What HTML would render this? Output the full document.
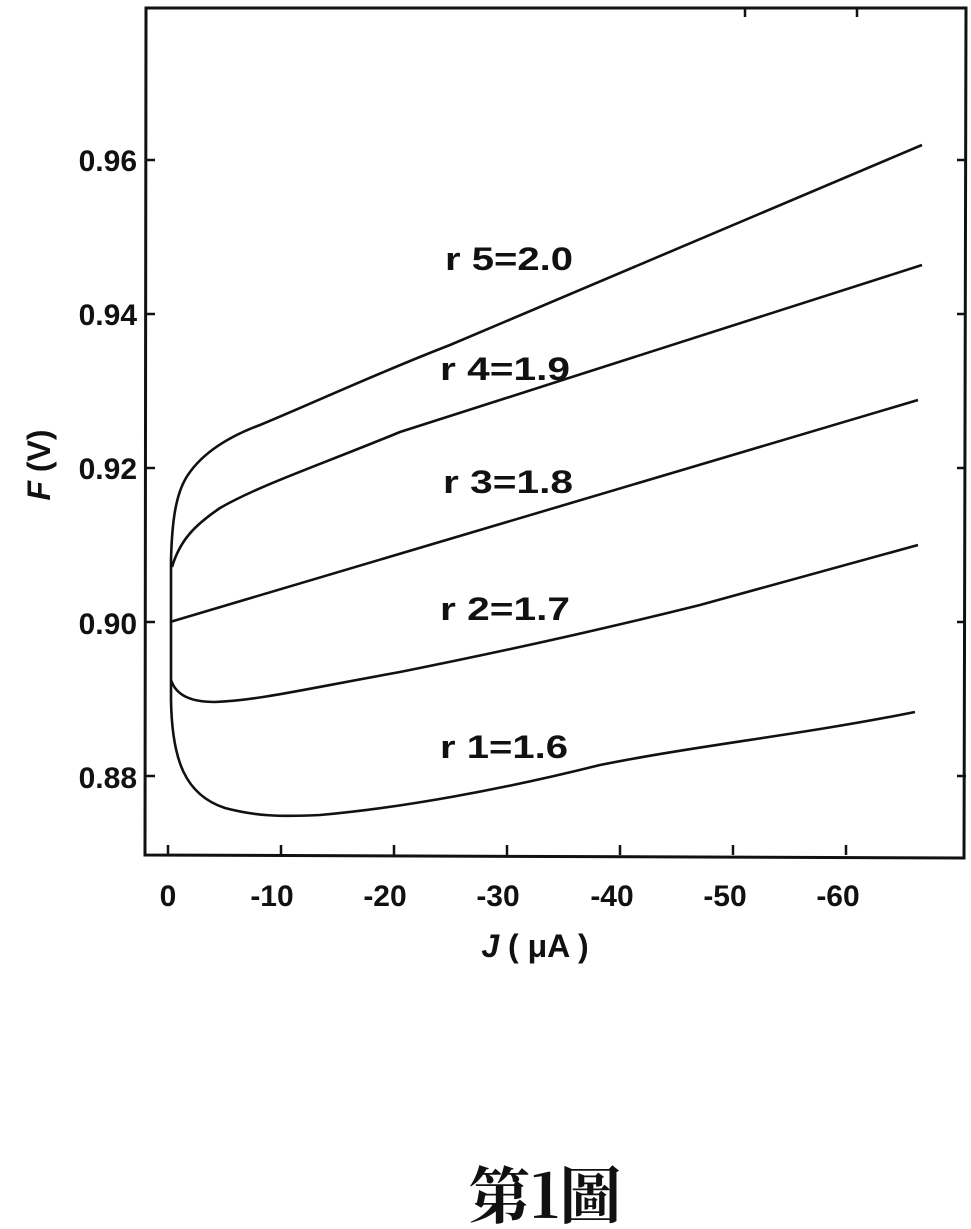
<!DOCTYPE html>
<html><head><meta charset="utf-8"><style>
html,body{margin:0;padding:0;background:#fff;}
svg{display:block}
text{font-family:"Liberation Sans",Arial,sans-serif;font-weight:bold;fill:#111;}
</style></head><body>
<svg width="971" height="1229" viewBox="0 0 971 1229" xmlns="http://www.w3.org/2000/svg">
<g stroke="#111" fill="none">
<path d="M146 8 L966 8 L964 858 L145 855 Z" stroke-width="3"/>
<g stroke-width="2.5">
<path d="M168 855 v-10 M281 855 v-10 M394 855 v-10 M507 855 v-10 M620 855 v-10 M733 855 v-10 M846 855 v-10"/>
<path d="M745 8 v9 M857 8 v9"/>
<path d="M146 160 h9 M146 314 h9 M146 468 h9 M146 622 h9 M146 776 h9"/>
<path d="M966 160 h-9 M966 314 h-9 M966 468 h-9 M966 622 h-9 M966 776 h-9"/>
</g>
<g stroke-width="2.6">
<path d="M171 700 L171 560 C172 520 176 495 186 478 C200 455 225 438 260 425 C320 400 380 372 450 345 L922 145"/>
<path d="M172 567 C180 540 195 525 220 508 C260 485 320 465 400 432 L922 265"/>
<path d="M170 622 L918 400"/>
<path d="M171 680 C176 695 190 702 215 702 C260 700 300 690 400 672 C500 652 600 630 700 605 L918 545"/>
<path d="M171 700 C172 760 185 795 225 808 C255 816 280 817 320 815 C400 808 500 790 600 765 C700 745 800 735 915 712"/>
</g>
</g>
<g font-size="32">
<text x="445" y="270" textLength="128" lengthAdjust="spacingAndGlyphs">r 5=2.0</text>
<text x="440" y="380" textLength="130" lengthAdjust="spacingAndGlyphs">r 4=1.9</text>
<text x="443" y="493" textLength="130" lengthAdjust="spacingAndGlyphs">r 3=1.8</text>
<text x="440" y="620" textLength="130" lengthAdjust="spacingAndGlyphs">r 2=1.7</text>
<text x="440" y="758" textLength="128" lengthAdjust="spacingAndGlyphs">r 1=1.6</text>
</g>
<g font-size="30" text-anchor="end">
<text x="137" y="171">0.96</text>
<text x="137" y="325">0.94</text>
<text x="137" y="479">0.92</text>
<text x="137" y="634">0.90</text>
<text x="137" y="788">0.88</text>
</g>
<g font-size="30" text-anchor="middle">
<text x="168" y="906">0</text>
<text x="272" y="906">-10</text>
<text x="385" y="906">-20</text>
<text x="498" y="906">-30</text>
<text x="612" y="906">-40</text>
<text x="725" y="906">-50</text>
<text x="838" y="906">-60</text>
<text x="535" y="957" font-size="32"><tspan font-style="italic">J</tspan> ( μA )</text>
<text transform="translate(50 465) rotate(-90)" font-size="32"><tspan font-style="italic">F</tspan> (V)</text>
</g>
<text x="545" y="1218" text-anchor="middle" font-size="62" style="font-family:'Noto Serif CJK SC','Noto Sans CJK TC',serif;font-weight:bold">第1圖</text>
</svg>
</body></html>
